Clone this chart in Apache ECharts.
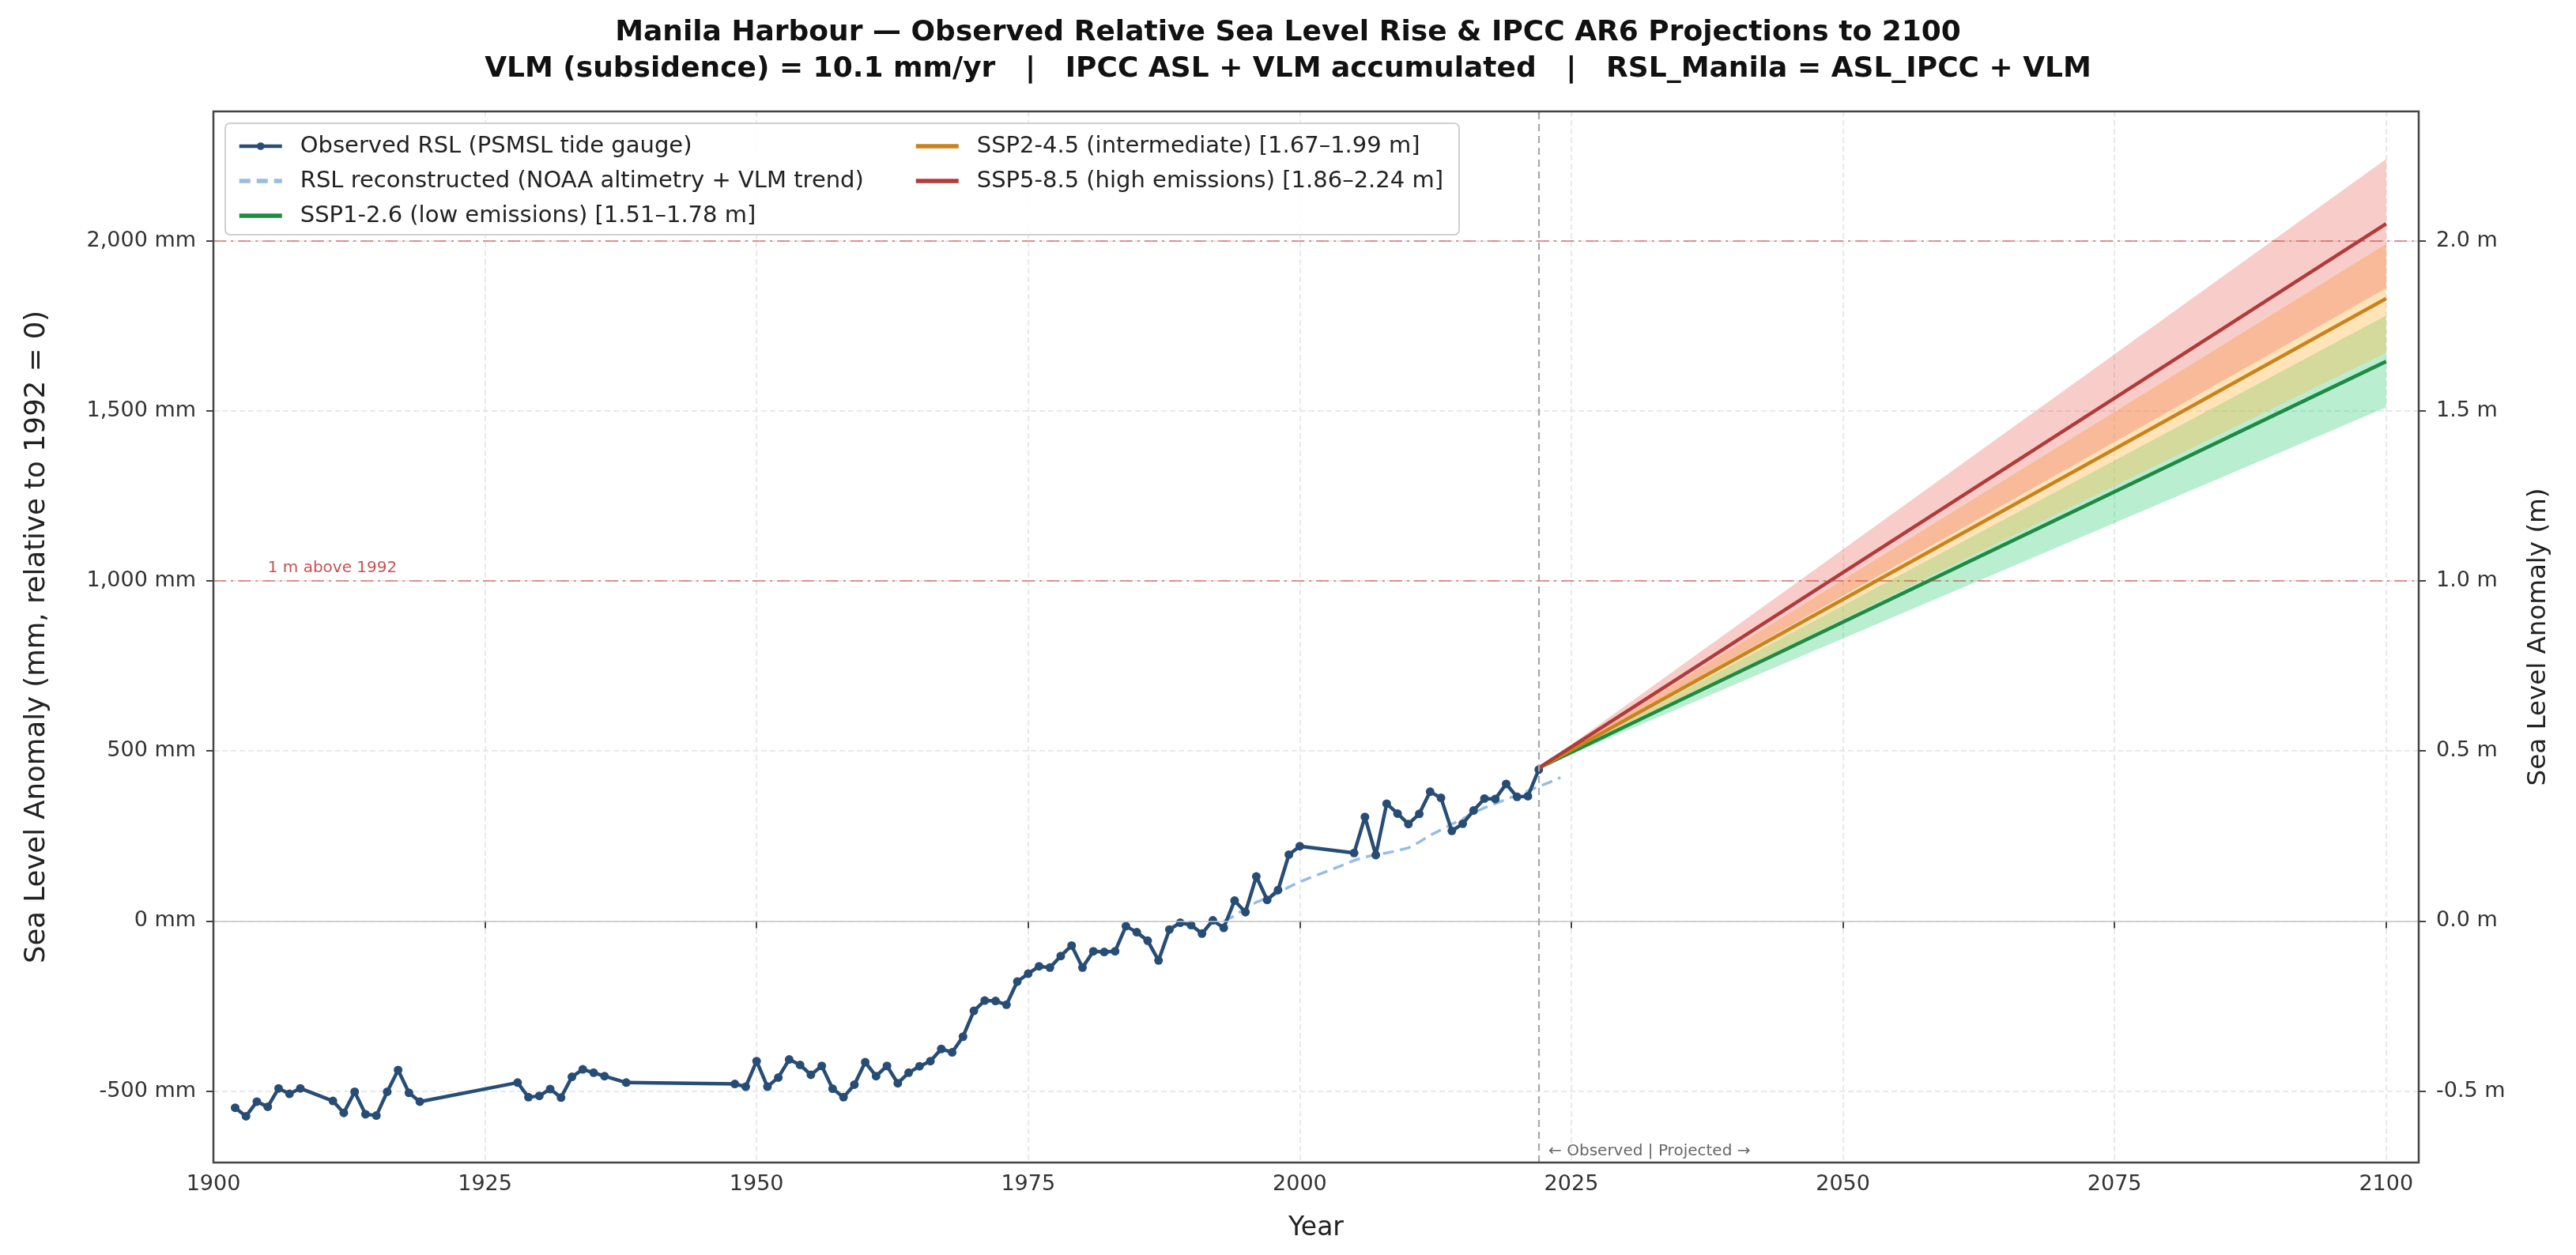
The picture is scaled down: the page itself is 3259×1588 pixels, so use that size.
<!DOCTYPE html>
<html>
<head>
<meta charset="utf-8">
<title>Manila Harbour - RSL and AR6 projections</title>
<script src="https://cdn.jsdelivr.net/npm/echarts@6.0.0/dist/echarts.min.js"></script>
<style>
  html, body { margin: 0; padding: 0; background: #fff; }
  #chart { width: 3259px; height: 1588px; }
</style>
</head>
<body>
<div id="chart"></div>
<script>
// observed RSL, PSMSL tide gauge (mm, 1992 = 0)
const obsYears = [1902, 1903, 1904, 1905, 1906, 1907, 1908, 1911, 1912, 1913, 1914, 1915, 1916, 1917, 1918, 1919,
  1928, 1929, 1930, 1931, 1932, 1933, 1934, 1935, 1936, 1938,
  1948, 1949, 1950, 1951, 1952, 1953, 1954, 1955, 1956, 1957, 1958, 1959, 1960, 1961, 1962, 1963, 1964, 1965,
  1966, 1967, 1968, 1969, 1970, 1971, 1972, 1973, 1974, 1975, 1976, 1977, 1978, 1979, 1980, 1981, 1982, 1983,
  1984, 1985, 1986, 1987, 1988, 1989, 1990, 1991, 1992, 1993, 1994, 1995, 1996, 1997, 1998, 1999, 2000,
  2005, 2006, 2007, 2008, 2009, 2010, 2011, 2012, 2013, 2014, 2015, 2016, 2017, 2018, 2019, 2020, 2021, 2022];
const obsRsl = [-549, -574, -531, -546, -492, -508, -492, -529, -564, -502, -568, -572, -502, -438, -505, -531,
  -475, -518, -514, -494, -519, -458, -436, -446, -456, -475,
  -479, -487, -412, -487, -460, -407, -423, -452, -426, -493, -518, -481, -415, -456, -426, -477, -446, -427,
  -412, -376, -386, -340, -264, -234, -235, -246, -178, -155, -133, -137, -103, -72, -137, -89, -91, -89,
  -15, -33, -58, -116, -25, -5, -12, -37, 2, -20, 60, 26, 131, 62, 91, 195, 220,
  200, 306, 194, 345, 316, 285, 315, 380, 362, 265, 286, 325, 360, 359, 403, 365, 367, 445];

// reconstructed RSL (NOAA altimetry + VLM trend)
const reconYears = [1993, 1994, 1995, 1996, 1997, 1998, 1999, 2000, 2001, 2002, 2003, 2004, 2005, 2006, 2007, 2008,
  2009, 2010, 2011, 2012, 2013, 2014, 2015, 2016, 2017, 2018, 2019, 2020, 2021, 2022, 2023, 2024];
const reconRsl = [0, 15, 38, 55, 68, 82, 100, 115, 128, 140, 152, 165, 178, 188, 195, 200,
  207, 215, 232, 252, 268, 285, 300, 318, 333, 345, 358, 370, 382, 395, 408, 422];

// IPCC AR6 projections (mm), 2022 -> 2100
const projYears = [2022, 2100];
const ssp126Mid = [450, 1645];
const ssp126Lo = [450, 1510];
const ssp126Hi = [450, 1780];
const ssp245Mid = [450, 1830];
const ssp245Lo = [450, 1670];
const ssp245Hi = [450, 1990];
const ssp585Mid = [450, 2050];
const ssp585Lo = [450, 1860];
const ssp585Hi = [450, 2240];

const xTicks = [1900, 1925, 1950, 1975, 2000, 2025, 2050, 2075, 2100];
const yTicks = [-500, 0, 500, 1000, 1500, 2000];
const refLevels = [1000, 2000];
const splitYear = 2022;

const FONT = 'DejaVu Sans';
const NAMES = {
  obs: 'Observed RSL (PSMSL tide gauge)',
  recon: 'RSL reconstructed (NOAA altimetry + VLM trend)',
  s126: 'SSP1-2.6 (low emissions) [1.51–1.78 m]',
  s245: 'SSP2-4.5 (intermediate) [1.67–1.99 m]',
  s585: 'SSP5-8.5 (high emissions) [1.86–2.24 m]'
};

function zip(xs, ys) {
  return xs.map((x, i) => [x, ys[i]]);
}

function fmtMm(v) {
  return v.toLocaleString('en-US') + ' mm';
}

function fmtM(v) {
  return (v / 1000).toFixed(1) + ' m';
}

// uncertainty band as polygons between consecutive projection years
function band(lo, hi, color) {
  let rows = [];
  for (let i = 0; i < projYears.length - 1; i++) {
    rows.push([projYears[i], lo[i], hi[i], projYears[i + 1], lo[i + 1], hi[i + 1]]);
  }
  return {
    type: 'custom',
    silent: true,
    z: 1,
    data: rows,
    encode: { x: [0, 3], y: [1, 2, 4, 5] },
    renderItem(params, api) {
      let pts = [
        api.coord([api.value(0), api.value(1)]),
        api.coord([api.value(3), api.value(4)]),
        api.coord([api.value(3), api.value(5)]),
        api.coord([api.value(0), api.value(2)])
      ];
      return { type: 'polygon', shape: { points: pts }, style: { fill: color } };
    }
  };
}

function projLine(name, mid, color) {
  return {
    name: name,
    type: 'line',
    z: 4,
    data: zip(projYears, mid),
    symbol: 'none',
    color: color,
    lineStyle: { color: color, width: 4.5 },
    emphasis: { disabled: true }
  };
}

// legend entry for a plain line (no marker)
function plainItem(name) {
  return { name: name, itemStyle: { opacity: 0 }, lineStyle: { width: 5.5 } };
}

const legendCommon = {
  orient: 'vertical',
  top: 164,
  itemWidth: 54,
  itemHeight: 12,
  itemGap: 12,
  z: 20,
  textStyle: { fontFamily: FONT, fontSize: 29, color: '#222', lineHeight: 32, padding: [0, 0, 0, 18] }
};

const axisText = { fontFamily: FONT, fontSize: 27, color: '#333' };
const gridDash = { color: '#e2e2e2', width: 1.5, type: [7, 4] };
const tickStyle = { show: true, length: 9, lineStyle: { color: '#444', width: 2 } };

let chart = echarts.init(document.getElementById('chart'));
chart.setOption({
  animation: false,
  backgroundColor: '#fff',
  title: {
    text: 'Manila Harbour — Observed Relative Sea Level Rise & IPCC AR6 Projections to 2100\n' +
      'VLM (subsidence) = 10.1 mm/yr   |   IPCC ASL + VLM accumulated   |   RSL_Manila = ASL_IPCC + VLM',
    left: 'center',
    top: 14,
    textStyle: { fontFamily: FONT, fontSize: 36, fontWeight: 'bold', color: '#111', lineHeight: 46 }
  },
  legend: [
    Object.assign({
      left: 295,
      data: [
        { name: NAMES.obs, lineStyle: { width: 4.5 } },
        plainItem(NAMES.recon),
        plainItem(NAMES.s126)
      ]
    }, legendCommon),
    Object.assign({ left: 1151, data: [plainItem(NAMES.s245), plainItem(NAMES.s585)] }, legendCommon)
  ],
  grid: {
    left: 270, right: 199, top: 141, bottom: 117,
    show: false
  },
  xAxis: {
    type: 'value',
    min: 1900, max: 2103, interval: 25,
    name: 'Year', nameLocation: 'middle', nameGap: 67,
    nameTextStyle: { fontFamily: FONT, fontSize: 33, color: '#222' },
    axisLine: { show: false },
    axisTick: tickStyle,
    axisLabel: Object.assign({ margin: 14, formatter: v => (xTicks.indexOf(v) < 0 ? '' : String(v)) }, axisText),
    splitLine: { show: true, lineStyle: gridDash }
  },
  yAxis: [
    {
      type: 'value',
      min: -710, max: 2380,
      name: 'Sea Level Anomaly (mm, relative to 1992 = 0)', nameLocation: 'middle', nameGap: 205,
      nameTextStyle: { fontFamily: FONT, fontSize: 35.5, color: '#222' },
      axisLine: { show: false },
      axisTick: Object.assign({ customValues: yTicks }, tickStyle),
      axisLabel: Object.assign({ margin: 22, customValues: yTicks, formatter: fmtMm }, axisText),
      splitLine: { show: true, lineStyle: gridDash }
    },
    {
      type: 'value',
      position: 'right',
      min: -710, max: 2380,
      name: 'Sea Level Anomaly (m)', nameLocation: 'middle', nameGap: 135, nameRotate: 90,
      nameTextStyle: { fontFamily: FONT, fontSize: 32.5, color: '#222' },
      axisLine: { show: false },
      axisTick: Object.assign({ customValues: yTicks }, tickStyle),
      axisLabel: Object.assign({ margin: 22, customValues: yTicks, formatter: fmtM }, axisText),
      splitLine: { show: false }
    }
  ],
  series: [
    band(ssp126Lo, ssp126Hi, 'rgba(46, 204, 113, 0.33)'),
    band(ssp245Lo, ssp245Hi, 'rgba(255, 185, 70, 0.38)'),
    band(ssp585Lo, ssp585Hi, 'rgba(231, 90, 75, 0.3)'),
    {
      name: NAMES.recon,
      type: 'line',
      z: 2,
      data: zip(reconYears, reconRsl),
      symbol: 'none',
      color: '#98bddf',
      lineStyle: { color: '#98bddf', width: 3.5, type: [14, 8] },
      emphasis: { disabled: true },
      markLine: {
        silent: true,
        symbol: 'none',
        label: { show: false },
        data: [
          { yAxis: 0, lineStyle: { color: '#c4c4c4', width: 1.6, type: 'solid' } },
          { yAxis: refLevels[0], lineStyle: { color: 'rgba(205, 70, 70, 0.55)', width: 2, type: [16, 6, 3, 6] } },
          { yAxis: refLevels[1], lineStyle: { color: 'rgba(205, 70, 70, 0.55)', width: 2, type: [16, 6, 3, 6] } },
          { xAxis: splitYear, lineStyle: { color: '#a8a8a8', width: 2.2, type: [9, 6] } }
        ]
      }
    },
    {
      name: NAMES.obs,
      type: 'line',
      z: 3,
      data: zip(obsYears, obsRsl),
      symbol: 'circle',
      symbolSize: 11,
      color: '#284d75',
      itemStyle: { color: '#284d75' },
      lineStyle: { color: '#284d75', width: 4.5 },
      emphasis: { disabled: true }
    },
    projLine(NAMES.s126, ssp126Mid, '#1e8a44'),
    projLine(NAMES.s245, ssp245Mid, '#c8841c'),
    projLine(NAMES.s585, ssp585Mid, '#b13a3a')
  ]
});

// annotations anchored to data coordinates
let p1m = chart.convertToPixel({ gridIndex: 0 }, [1905.0, refLevels[0]]);
let pSplit = chart.convertToPixel({ gridIndex: 0 }, [splitYear + 0.9, -677]);
chart.setOption({
  graphic: [
    {
      // axes frame
      type: 'rect', z: 40, silent: true,
      shape: { x: 270, y: 141, width: 2790, height: 1330 },
      style: { fill: 'none', stroke: '#444', lineWidth: 2.5 }
    },
    {
      type: 'rect', z: 15, silent: true,
      shape: { x: 285, y: 156, width: 1561, height: 141, r: 6 },
      style: { fill: 'rgba(255,255,255,0.85)', stroke: '#d0d0d0', lineWidth: 2 }
    },
    {
      type: 'text', z: 30, silent: true,
      x: p1m[0], y: p1m[1] - 6,
      style: { text: '1 m above 1992', fontFamily: FONT, fontSize: 20, fill: 'rgba(190, 50, 50, 0.85)', verticalAlign: 'bottom' }
    },
    {
      type: 'text', z: 30, silent: true,
      x: pSplit[0], y: pSplit[1],
      style: { text: '← Observed | Projected →', fontFamily: FONT, fontSize: 20, fill: '#666', verticalAlign: 'middle' }
    }
  ]
});
</script>
</body>
</html>
